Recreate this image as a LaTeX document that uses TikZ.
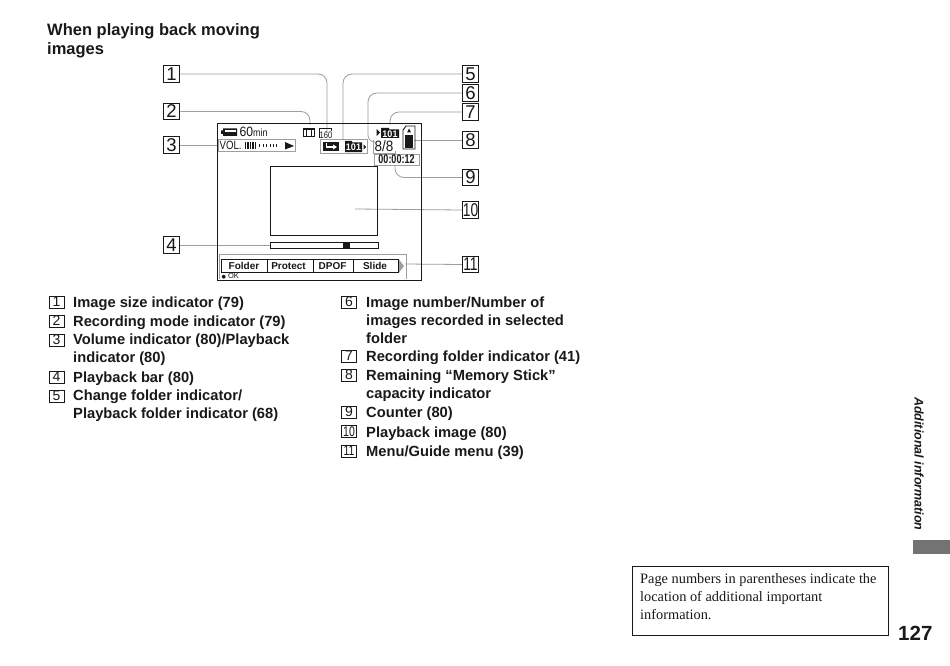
\documentclass[tikz,border=0pt]{standalone}
\usepackage{fontspec}
\setmainfont{Liberation Sans}
\newfontfamily\timesf{Liberation Serif}
\newfontfamily\dejav{DejaVu Sans}
\newcommand{\fz}[2]{\fontsize{#1}{#2}\selectfont}
\newcommand{\nar}[2]{\scalebox{#1}[1]{#2}}
\definecolor{ink}{gray}{0.1}
\definecolor{lead}{gray}{0.62}
\tikzset{
 callout/.style={draw=ink,line width=1pt,inner sep=0pt,minimum width=16.5pt,minimum height=16.5pt,font=\fz{18.5}{19},text=ink},
 numbox/.style={draw=ink,line width=0.7pt,inner sep=0pt,minimum width=15pt,minimum height=12pt,font=\fz{14}{14},text=ink},
 item/.style={anchor=north west,align=left,inner sep=0pt,font=\bfseries\fz{14.7}{18},text=ink},
 leader/.style={draw=lead,line width=0.8pt,rounded corners=9pt},
 screenline/.style={draw=ink,line width=0.8pt},
 graybox/.style={draw=lead,line width=0.8pt},
 menulabel/.style={font=\bfseries\fz{10}{10},text=ink,inner sep=0pt},
}
\begin{document}
\begin{tikzpicture}[x=1pt,y=-1pt]
\useasboundingbox (0,0) rectangle (950,666);
\fill[white] (0,0) rectangle (950,666);
% title
\node[anchor=north west,align=left,inner sep=0pt,font=\bfseries\fz{16.5}{19},text=ink] (title) at (47,23) {When playing back moving\\images};
% free ends
\coordinate (e1) at (327,133);
\coordinate (e2) at (310,125);
\coordinate (e3) at (217,145);
\coordinate (e4) at (270,245);
\coordinate (e5) at (343,140);
\coordinate (e6a) at (368,128);
\coordinate (e6) at (375,142);
\coordinate (e7) at (390,125);
\coordinate (e8) at (414,140);
\coordinate (e9) at (395,165);
\coordinate (e10) at (355,209);
\coordinate (e11) at (405,264);
% callouts
\node[callout] (b1) at (171.5,74) {1};
\node[callout] (b2) at (171.5,111.5) {2};
\node[callout] (b3) at (171.5,145) {3};
\node[callout] (b4) at (171.5,245) {4};
\node[callout] (b5) at (470.5,74) {5};
\node[callout] (b6) at (470.5,93) {6};
\node[callout] (b7) at (470.5,112) {7};
\node[callout] (b8) at (470.5,140) {8};
\node[callout] (b9) at (470.5,177.5) {9};
\node[callout] (b10) at (470.5,210) {\nar{0.75}{10}};
\node[callout] (b11) at (470.5,264.5) {\nar{0.75}{11}};
% leaders
\draw[leader] (b1.east) -| (e1);
\draw[leader] (b2.east) -| (e2);
\draw[leader] (b3.east) -- (e3);
\draw[leader] (b4.east) -- (e4);
\draw[leader] (b5.west) -| (e5);
\draw[leader] (b6.west) -| (e6a);
\draw[draw=lead,line width=0.8pt] (e6a) -- (368,135) .. controls (368,139) and (371,142) .. (e6);
\draw[leader] (b7.west) -| (e7);
\draw[leader] (b8.west) -- (e8);
\draw[leader] (b9.west) -| (e9);
\draw[leader] (b10.west) -- (e10);
\draw[leader] (b11.west) -- (e11);
% screen
\draw[screenline,line width=1pt] (217,124) rectangle (421,280);
\draw[screenline] (270,166) rectangle (377,235);
\draw[screenline,line width=0.7pt] (270,242) rectangle (378,248);
\fill[ink] (343,242) rectangle (350,248);
% top-left status
\fill[ink] (223,128.5) rectangle (237,136) (221,130.5) rectangle (223,134);
\fill[white] (225,130.5) -- (235.5,130.5) -- (235.5,132) -- (225,132) -- cycle;
\node[anchor=base west,inner sep=0pt,font=\fz{13.5}{14},text=ink] (min60) at (239.5,137) {\nar{0.9}{60}\nar{0.85}{\fz{10.5}{11}min}};
\draw[graybox] (218,139) rectangle (295,151);
\node[anchor=base west,inner sep=0pt,font=\fz{12}{12},text=ink] (vol) at (219.5,149.3) {\nar{0.8}{VOL.}};
\foreach \x in {244.5,247,249.5,252,254.5} \fill[ink] (\x,142) rectangle +(1.7,6.5);
\foreach \x in {259,262.5,266,269.5,273,276} \fill[ink] (\x,144) rectangle +(1.2,3);
\fill[ink] (285,142) -- (294,146) -- (285,149.5) -- cycle;
% film icon
\draw[ink,line width=1.3pt] (303.5,129) rectangle (314.5,136.5);
\draw[ink,line width=1.2pt] (306.8,129) -- (306.8,136.5) (311.2,129) -- (311.2,136.5);
% image size icon
\draw[ink,line width=0.8pt] (319,138) -- (319,128) -- (331,128) -- (331,131);
\node[inner sep=0pt,font=\fz{9.5}{10},text=ink] (size160) at (326,135.5) {\nar{0.8}{160}};
% change folder
\draw[graybox] (320,139) rectangle (367,153);
\fill[ink] (323,142) rectangle (339,151);
\draw[white,line width=1.2pt] (326.5,143.5) -- (326.5,147) -- (334,147);
\fill[white] (333,144.5) -- (337,147) -- (333,149.5) -- cycle;
\fill[ink] (345,142.5) rectangle (362,152) (345,141) rectangle (352,143);
\node[inner sep=0pt,font=\bfseries\fz{9.5}{10},text=white] (f101a) at (353.5,147.5) {\nar{0.95}{101}};
\fill[ink] (363.5,144.5) -- (366,147) -- (363.5,149.5) -- cycle;
% 8/8
\draw[graybox] (373,140) -- (373,153) -- (395,153) -- (395,151);
\node[inner sep=0pt,font=\fz{15}{15},text=ink] (eight) at (384,146.5) {\nar{0.9}{8/8}};
% counter
\draw[graybox] (374,154) rectangle (419,165);
\node[inner sep=0pt,font=\bfseries\fz{12.5}{13},text=ink] (counter) at (396.5,159.5) {\nar{0.72}{00:00:12}};
% recording folder
\fill[ink] (376.5,129) -- (380,132.5) -- (376.5,136) -- cycle;
\fill[ink] (381,129.5) rectangle (399,138) (381,128) rectangle (389,130);
\node[inner sep=0pt,font=\bfseries\fz{9.5}{10},text=white] (f101b) at (390,133.8) {\nar{0.95}{101}};
% memory stick
\draw[ink,line width=0.9pt] (403,149) -- (403,130) -- (406,126) -- (415,126) -- (415,149) -- cycle;
\fill[ink] (405,135) rectangle (413,148);
\fill[ink] (407,132.5) -- (409,128.5) -- (411,132.5) -- cycle;
% menu
\draw[graybox] (219,279) -- (219,254) -- (406,254) -- (406,279);
\draw[screenline,line width=0.8pt] (221,259) rectangle (398,272);
\draw[screenline,line width=0.8pt] (267,259) -- (267,272) (313,259) -- (313,272) (353,259) -- (353,272);
\node[menulabel] (m1) at (244,265.8) {Folder};
\node[menulabel] (m2) at (288.5,265.8) {Protect};
\node[menulabel] (m3) at (332.5,265.8) {DPOF};
\node[menulabel] (m4) at (375,265.8) {Slide};
\fill[lead] (399,259.5) -- (404,266) -- (399,272.5) -- cycle;
\node[anchor=base west,inner sep=0pt,font=\fz{7.5}{8},text=ink] (ok) at (221.5,278.8) {{\dejav\fz{5}{6}●} OK};
% list left
\node[numbox] (n1) at (56.5,302) {1};
\node[item] (t1) at (73,296.5) {Image size indicator (79)};
\node[numbox] (n2) at (56.5,321) {2};
\node[item] (t2) at (73,315.5) {Recording mode indicator (79)};
\node[numbox] (n3) at (56.5,340) {3};
\node[item] (t3) at (73,334) {Volume indicator (80)/Playback\\indicator (80)};
\node[numbox] (n4) at (56.5,377) {4};
\node[item] (t4) at (73,371.5) {Playback bar (80)};
\node[numbox] (n5) at (56.5,396) {5};
\node[item] (t5) at (73,390) {Change folder indicator/\\Playback folder indicator (68)};
% list right
\node[numbox] (n6) at (349,302) {6};
\node[item] (t6) at (366,296.5) {Image number/Number of\\images recorded in selected\\folder};
\node[numbox] (n7) at (349,356) {7};
\node[item] (t7) at (366,351) {Recording folder indicator (41)};
\node[numbox] (n8) at (349,375) {8};
\node[item] (t8) at (366,369.5) {Remaining “Memory Stick”\\capacity indicator};
\node[numbox] (n9) at (349,412) {9};
\node[item] (t9) at (366,406.5) {Counter (80)};
\node[numbox] (n10) at (349,431.5) {\nar{0.75}{10}};
\node[item] (t10) at (366,426.5) {Playback image (80)};
\node[numbox] (n11) at (349,451) {\nar{0.75}{11}};
\node[item] (t11) at (366,445.5) {Menu/Guide menu (39)};
% side tab
\node[rotate=-90,anchor=west,inner sep=0pt,font=\bfseries\itshape\fz{12.5}{13},text=ink] (side) at (919,397) {Additional information};
\fill[black!55] (913,540) rectangle (950,554);
% note
\node[draw=ink,line width=0.8pt,anchor=north west,minimum width=256pt,minimum height=69pt,inner sep=0pt] (note) at (632,566) {};
\node[anchor=north west,align=left,inner sep=0pt,font=\timesf\fz{14.35}{18.3},text=ink] (notetext) at (640,573) {Page numbers in parentheses indicate the\\location of additional important\\information.};
\node[anchor=base west,inner sep=0pt,font=\bfseries\fz{20.5}{22},text=ink] (page) at (898,640) {127};
\end{tikzpicture}
\end{document}
